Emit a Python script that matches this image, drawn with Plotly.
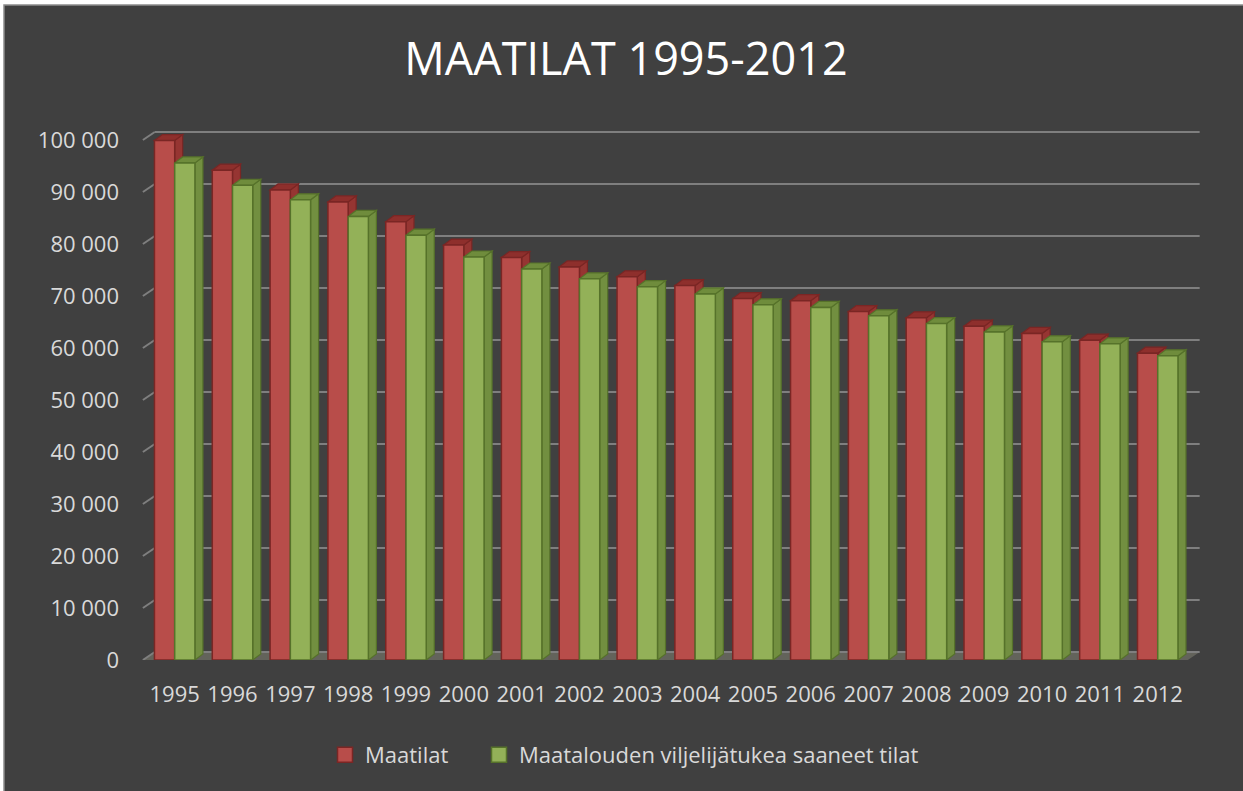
import plotly.graph_objects as go

# --- data ---------------------------------------------------------------
years = ["1995", "1996", "1997", "1998", "1999", "2000", "2001", "2002", "2003",
         "2004", "2005", "2006", "2007", "2008", "2009", "2010", "2011", "2012"]
maatilat = [99900, 94200, 90400, 88100, 84300, 79800, 77400, 75600, 73700,
            72000, 69500, 69100, 67000, 65800, 64200, 62800, 61500, 59000]
tuetut = [95600, 91300, 88500, 85300, 81700, 77500, 75200, 73300, 71800,
          70400, 68300, 67800, 66200, 64700, 63100, 61200, 60800, 58500]
series_names = ["Maatilat", "Maatalouden viljelijätukea saaneet tilat"]
y_ticks = list(range(0, 100001, 10000))

# --- geometry / style ---------------------------------------------------
W, H = 1243, 791
M_L, M_R, M_T, M_B = 140, 39, 120, 131
X_RANGE = [-0.6, 17.8]
Y_RANGE = [0, 103846]
BAR_W = 0.35
BAR_DX, BAR_DY = 0.138, 1150     # depth of each bar (x units, value units)
WALL_DX, WALL_DY = 0.205, 1540   # depth of the back wall
BG = "#404040"
TXT = "#D9D9D9"
FONT = "Open Sans"

RED_FRONT, RED_TOP, RED_SIDE, RED_EDGE = "#B84D4A", "#8E2F2C", "#963532", "#7A2624"
GRN_FRONT, GRN_TOP, GRN_SIDE, GRN_EDGE = "#93B158", "#6F8C3C", "#728F40", "#56722A"

pw = W - M_L - M_R
ph = H - M_T - M_B


def px_to_paper(px, py):
    return (px - M_L) / pw, (H - M_B - py) / ph


def path(pts):
    return "M " + " L ".join(f"{x},{y}" for x, y in pts) + " Z"


shapes = []

# chart frame: white outer strip with a thin grey border around the dark area
x0p, y0p = px_to_paper(4, 5)
x1p, y1p = px_to_paper(W + 10, H + 10)
shapes.append(dict(type="rect", xref="paper", yref="paper", x0=x0p, y0=y1p, x1=x1p, y1=y0p,
                   fillcolor=BG, line=dict(color="#8C8C8C", width=1.5), layer="below"))

# floor
fl, fr = -0.55, 17.52
shapes.append(dict(type="path", xref="x", yref="y", layer="below",
                   path=path([(fl, 0), (fr, 0), (fr + WALL_DX, WALL_DY), (fl + WALL_DX, WALL_DY)]),
                   fillcolor="#63635B", line=dict(width=0)))

# back-wall gridlines with their slanted side-wall segments
for v in y_ticks:
    shapes.append(dict(type="line", xref="x", yref="y", layer="below",
                       x0=fl + WALL_DX, x1=fr + WALL_DX, y0=v + WALL_DY, y1=v + WALL_DY,
                       line=dict(color="#7F7F7F", width=2)))
    shapes.append(dict(type="line", xref="x", yref="y", layer="below",
                       x0=fl, x1=fl + WALL_DX, y0=v, y1=v + WALL_DY,
                       line=dict(color="#7F7F7F", width=2)))

# top and side faces of every bar, derived from its value
for i in range(len(years)):
    for vals, off, top_c, side_c, edge_c in [
        (maatilat, -BAR_W, RED_TOP, RED_SIDE, RED_EDGE),
        (tuetut, 0.0, GRN_TOP, GRN_SIDE, GRN_EDGE),
    ]:
        v = vals[i]
        a = i + off
        b = a + BAR_W
        shapes.append(dict(type="path", xref="x", yref="y", layer="below",
                           path=path([(b, 0), (b + BAR_DX, BAR_DY), (b + BAR_DX, v + BAR_DY), (b, v)]),
                           fillcolor=side_c, line=dict(color=edge_c, width=1.2)))
        shapes.append(dict(type="path", xref="x", yref="y", layer="below",
                           path=path([(a, v), (b, v), (b + BAR_DX, v + BAR_DY), (a + BAR_DX, v + BAR_DY)]),
                           fillcolor=top_c, line=dict(color=edge_c, width=1.2)))

fig = go.Figure()
fig.add_trace(go.Bar(x=years, y=maatilat, name=series_names[0], width=BAR_W, offset=-BAR_W,
                     showlegend=False,
                     marker=dict(color=RED_FRONT, line=dict(color=RED_EDGE, width=1.5))))
fig.add_trace(go.Bar(x=years, y=tuetut, name=series_names[1], width=BAR_W, offset=0,
                     showlegend=False,
                     marker=dict(color=GRN_FRONT, line=dict(color=GRN_EDGE, width=1.5))))

# legend keys: square swatches for the two series, each in its own legend box
for name, fc, ec, lg in [(series_names[0], RED_FRONT, RED_EDGE, "legend"),
                         (series_names[1], GRN_FRONT, GRN_EDGE, "legend2")]:
    fig.add_trace(go.Scatter(x=[None], y=[None], mode="markers", name=name, showlegend=True,
                             legend=lg,
                             marker=dict(symbol="square", size=15, color=fc,
                                         line=dict(color=ec, width=1.5))))

leg1_x, leg_y = px_to_paper(325, 755)
leg2_x, _ = px_to_paper(479, 755)
legend_style = dict(orientation="h", y=leg_y, xanchor="left", yanchor="middle",
                    bgcolor="rgba(0,0,0,0)", font=dict(size=22, color=TXT), itemwidth=30)

fig.update_layout(
    width=W, height=H,
    margin=dict(l=M_L, r=M_R, t=M_T, b=M_B, pad=0),
    paper_bgcolor="white",
    plot_bgcolor=BG,
    barmode="overlay",
    separators=", ",
    font=dict(family=FONT, color=TXT, size=22),
    title=dict(text="MAATILAT 1995-2012", x=626 / W, xref="container", xanchor="center",
               y=1 - 59 / H, yref="container", yanchor="middle",
               font=dict(family=FONT, size=45, color="#FFFFFF")),
    xaxis=dict(type="category", range=X_RANGE, showgrid=False, zeroline=False, showline=False,
               ticks="", tickfont=dict(size=22, color=TXT), ticklabelstandoff=19),
    yaxis=dict(range=Y_RANGE, tickvals=y_ticks, tickformat=",d", showgrid=False, zeroline=False,
               showline=False, ticks="", tickfont=dict(size=22, color=TXT), ticklabelstandoff=20),
    legend=dict(x=leg1_x, **legend_style),
    legend2=dict(x=leg2_x, **legend_style),
    shapes=shapes,
    showlegend=True,
)

fig.write_html("out.html")
